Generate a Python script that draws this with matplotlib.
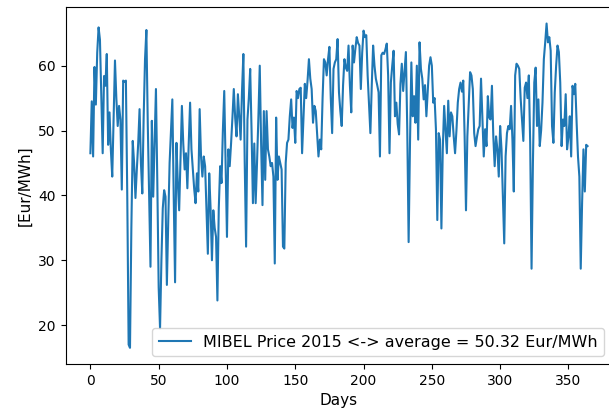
import matplotlib
matplotlib.use("Agg")
import matplotlib.pyplot as plt
import numpy as np

# daily MIBEL price 2015 (Eur/MWh)
price = [
    46.5, 54.5, 46.0, 59.8, 54.0, 62.0, 65.9, 64.0, 55.0, 46.5,
    58.4, 56.9, 61.8, 47.8, 52.8, 47.0, 42.9, 52.0, 60.8, 55.0,
    50.7, 53.8, 51.7, 40.9, 57.7, 57.5, 57.7, 40.0, 17.0, 16.5,
    35.0, 48.4, 45.0, 39.6, 44.0, 48.0, 53.3, 45.0, 40.3, 52.0,
    61.0, 65.5, 51.2, 40.0, 29.0, 51.5, 39.8, 48.0, 56.4, 42.0,
    25.8, 19.5, 30.0, 38.0, 40.8, 39.8, 26.2, 36.0, 45.0, 50.0,
    54.8, 40.0, 26.6, 48.1, 42.0, 37.7, 46.0, 53.8, 48.0, 44.0,
    46.5, 41.1, 48.0, 54.3, 47.1, 44.0, 41.0, 38.8, 43.4, 40.6,
    53.3, 46.0, 42.9, 46.0, 44.5, 38.0, 31.0, 43.4, 38.0, 30.0,
    37.7, 35.0, 33.6, 23.8, 38.0, 44.5, 41.9, 50.0, 56.1, 45.0,
    33.6, 47.1, 44.5, 48.0, 52.0, 56.4, 52.0, 49.1, 55.6, 52.0,
    48.6, 56.0, 61.8, 45.0, 32.1, 51.7, 55.0, 59.5, 50.0, 38.8,
    48.0, 38.8, 45.0, 52.0, 60.0, 48.0, 38.5, 53.0, 42.4, 53.0,
    47.1, 46.0, 44.5, 45.0, 42.9, 29.5, 52.0, 42.4, 46.0, 45.0,
    44.0, 32.1, 31.8, 45.0, 48.1, 48.6, 52.2, 54.8, 50.4, 52.0,
    48.1, 56.1, 55.0, 56.4, 56.6, 46.5, 52.0, 57.2, 55.0, 57.7,
    61.0, 58.0, 56.4, 51.2, 53.8, 53.0, 49.6, 46.0, 48.6, 47.1,
    55.0, 61.0, 60.5, 58.5, 61.0, 62.9, 55.0, 49.6, 59.5, 60.5,
    61.0, 64.1, 55.9, 53.0, 50.7, 57.0, 61.0, 59.7, 59.2, 63.1,
    57.0, 52.8, 63.1, 60.5, 62.6, 64.4, 63.5, 63.1, 56.4, 62.0,
    65.4, 64.4, 64.7, 58.5, 54.0, 49.6, 56.9, 63.1, 60.0, 58.0,
    57.0, 55.9, 46.0, 61.6, 62.0, 61.8, 62.5, 63.4, 58.5, 46.5,
    57.4, 60.0, 62.3, 52.2, 54.3, 51.0, 49.4, 57.2, 60.3, 56.1,
    59.0, 62.1, 50.2, 32.8, 48.0, 60.5, 52.2, 55.3, 51.2, 60.0,
    48.6, 63.6, 59.5, 58.0, 54.8, 57.0, 52.2, 56.0, 60.0, 61.3,
    60.0, 54.3, 55.0, 50.2, 36.2, 49.6, 48.6, 34.9, 47.1, 53.8,
    50.0, 46.5, 54.6, 49.1, 52.8, 52.2, 49.1, 46.5, 50.0, 54.3,
    56.4, 57.4, 56.0, 57.7, 49.1, 37.7, 49.1, 54.0, 59.0, 58.5,
    56.4, 49.6, 47.6, 49.0, 50.2, 50.7, 58.0, 52.0, 46.0, 50.2,
    47.6, 55.3, 52.0, 51.7, 56.9, 49.1, 44.5, 49.1, 47.1, 42.9,
    50.7, 47.1, 40.0, 32.6, 46.0, 49.6, 50.7, 50.2, 53.8, 48.6,
    40.6, 58.5, 60.3, 60.0, 59.5, 55.0, 51.7, 48.4, 56.6, 57.4,
    55.0, 58.5, 48.1, 28.7, 45.0, 57.4, 59.7, 50.7, 54.8, 47.6,
    50.0, 54.3, 61.0, 63.6, 66.5, 63.6, 64.4, 62.3, 50.7, 48.1,
    55.9, 60.0, 63.1, 62.1, 57.4, 47.6, 51.7, 50.7, 55.6, 47.1,
    49.0, 52.2, 46.0, 56.9, 55.6, 57.2, 51.2, 46.0, 42.9, 28.7,
    38.8, 47.1, 40.6, 47.8, 47.6,
]
days = np.arange(len(price))

legend_label = 'MIBEL Price 2015 <-> average = 50.32 Eur/MWh'
x_label = 'Days'
y_label = '[Eur/MWh]'

fig = plt.figure(figsize=(6.09, 4.17), dpi=100)
# right spine falls just outside the picture, as in the original crop
ax = fig.add_axes([0.1076, 0.127, 0.898, 0.8555])

ax.plot(days, price, label=legend_label)
ax.set_xlabel(x_label, fontsize=11)
ax.set_ylabel(y_label, fontsize=11)
ax.legend(loc='lower right', fontsize=11.5)

plt.savefig('out.png', dpi=100)
